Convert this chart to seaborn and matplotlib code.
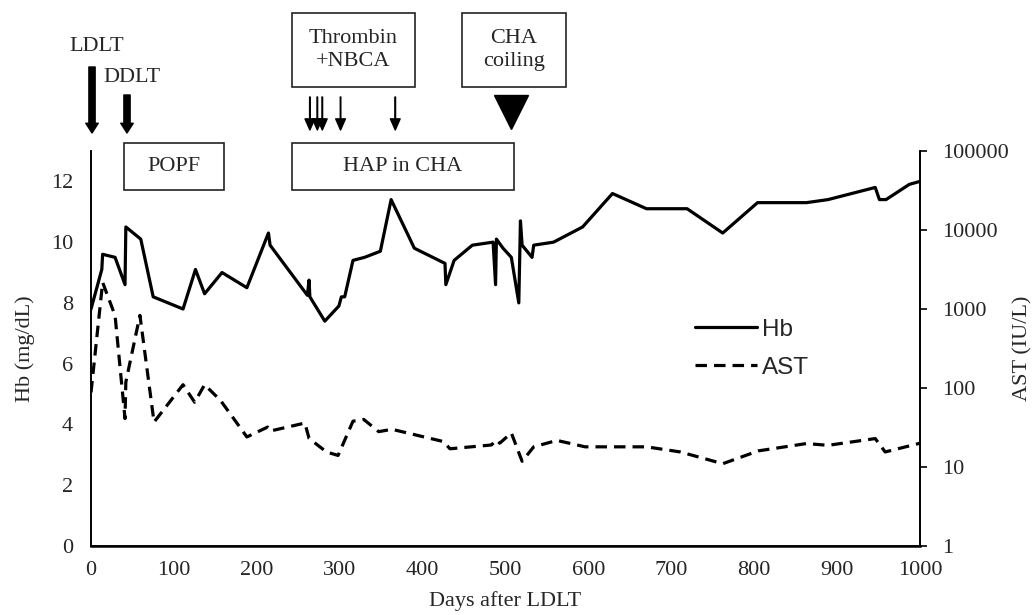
import numpy as np
import pandas as pd
import matplotlib
matplotlib.use("Agg")
import matplotlib.pyplot as plt
from matplotlib.patches import Rectangle
import seaborn as sns

# Hb (mg/dL) readings
hb_day = [0, 13, 14, 29, 41, 42, 60, 75, 111, 126, 137, 158, 188, 214, 216, 261, 263, 264,
          282, 299, 302, 306, 316, 330, 349, 362, 390, 427, 428, 438, 460, 485, 488, 489,
          497, 507, 516, 518, 520, 532, 534, 558, 593, 629, 670, 719, 762, 804, 863, 889,
          946, 951, 959, 987, 1000]
hb_val = [7.8, 9.1, 9.6, 9.5, 8.6, 10.5, 10.1, 8.2, 7.8, 9.1, 8.3, 9.0, 8.5, 10.3, 9.9, 8.25, 8.75, 8.2,
          7.4, 7.9, 8.2, 8.2, 9.4, 9.5, 9.7, 11.4, 9.8, 9.3, 8.6, 9.4, 9.9, 10.0, 8.6, 10.1,
          9.8, 9.5, 8.0, 10.7, 9.9, 9.5, 9.9, 10.0, 10.5, 11.6, 11.1, 11.1, 10.3, 11.3, 11.3, 11.4,
          11.8, 11.4, 11.4, 11.9, 12.0]

# AST (IU/L) readings
ast_day = [0, 14, 29, 41, 42, 59, 76, 111, 125, 137, 156, 168, 188, 213, 216, 258, 263, 284,
           298, 316, 329, 347, 363, 425, 433, 483, 489, 493, 507, 520, 534, 562, 596, 670,
           711, 762, 805, 863, 889, 946, 958, 1000]
ast_val = [88, 2170, 826, 41, 119, 830, 37, 110, 66, 110, 70, 47, 24, 32, 28.5, 36, 23, 15.5,
           14, 38, 40, 28, 30, 21, 17, 19, 22, 20, 27, 11.8, 18, 21.7, 18, 18,
           15.5, 11, 16, 19.8, 18.8, 22.9, 15.5, 20]

hb = pd.DataFrame({"day": hb_day, "Hb": hb_val})
ast = pd.DataFrame({"day": ast_day, "AST": ast_val})

sns.set_style("white")
plt.rcParams["font.family"] = ["Liberation Serif", "DejaVu Serif"]
FS = 16

fig = plt.figure(figsize=(10.32, 6.15), dpi=100)
ax = fig.add_axes([0.0882, 0.1122, 0.8033, 0.6423])
ax2 = ax.twinx()

sns.lineplot(data=hb, x="day", y="Hb", ax=ax, color="black", lw=2.3,
             sort=False, estimator=None, label="Hb", legend=False)
sns.lineplot(data=ast, x="day", y="AST", ax=ax2, color="black", lw=2.3,
             sort=False, estimator=None, label="AST", legend=False)
ax2.lines[0].set_dashes([3.6, 2.2])

ax.set_xlim(0, 1000)
ax.set_ylim(0, 13)
ax.set_xticks(range(0, 1001, 100))
ax.set_yticks(range(0, 13, 2))
ax2.set_yscale("log")
ax2.set_ylim(1, 100000)
ax2.set_yticks([1, 10, 100, 1000, 10000, 100000])
ax2.set_yticklabels(["1", "10", "100", "1000", "10000", "100000"])
ax2.minorticks_off()

ax.tick_params(axis="x", length=0, pad=11, labelsize=FS)
ax.tick_params(axis="y", length=0, pad=13, labelsize=FS)
ax2.tick_params(axis="y", length=5, width=1.2, direction="out", pad=11, labelsize=FS, color="black")

ax.set_xlabel("Days after LDLT", fontsize=FS, labelpad=8)
ax.set_ylabel("Hb (mg/dL)", fontsize=FS, labelpad=11)
ax2.set_ylabel("AST (IU/L)", fontsize=FS, labelpad=3)

for a in (ax, ax2):
    a.spines["top"].set_visible(False)
    for s in ("left", "right", "bottom"):
        a.spines[s].set_color("black")
        a.spines[s].set_linewidth(1.2)
ax.spines["bottom"].set_linewidth(1.8)

# legend
handles = ax.get_lines()[:1] + ax2.get_lines()[:1]
leg = fig.legend(handles, ["Hb", "AST"], loc="upper left", bbox_to_anchor=(0.652, 0.517),
                 frameon=False, handlelength=2.55, handletextpad=0.2, labelspacing=0.66,
                 prop={"family": "Liberation Sans", "size": 17.5})

# annotations above the plot (y in Hb units)
def hbpx(y):
    return (546 - y) / 30.385

def box(x0, x1, ytop, ybot, text):
    ax.add_patch(Rectangle((x0, hbpx(ybot)), x1 - x0, hbpx(ytop) - hbpx(ybot),
                           fill=False, ec="#222222", lw=1.2, clip_on=False))
    ax.text((x0 + x1) / 2, (hbpx(ytop) + hbpx(ybot)) / 2, text, ha="center", va="center",
            fontsize=FS, linespacing=1.35, clip_on=False)

box(40, 160, 143, 190, "POPF")
box(242, 510, 143, 190, "HAP in CHA")
box(242, 391, 13, 87, "Thrombin\n+NBCA")
box(447, 573, 13, 87, "CHA\ncoiling")

thick = dict(facecolor="black", edgecolor="black", width=4.5, headwidth=9, headlength=7)
ax.annotate("", xy=(1.2, hbpx(133)), xytext=(1.2, hbpx(67)), arrowprops=thick, annotation_clip=False)
ax.annotate("", xy=(43.4, hbpx(133)), xytext=(43.4, hbpx(95)), arrowprops=thick, annotation_clip=False)
ax.text(7, hbpx(47), "LDLT", ha="center", va="center", fontsize=FS)
ax.text(49, hbpx(78), "DDLT", ha="center", va="center", fontsize=FS)

thin = dict(facecolor="black", edgecolor="black", width=0.4, headwidth=7, headlength=8)
for d in [264, 273, 279, 301, 367]:
    ax.annotate("", xy=(d, hbpx(130)), xytext=(d, hbpx(97)), arrowprops=thin, annotation_clip=False)

ax.plot([507], [hbpx(112.5)], marker="v", ms=24, color="black", clip_on=False)

fig.savefig("out.png", dpi=100)
